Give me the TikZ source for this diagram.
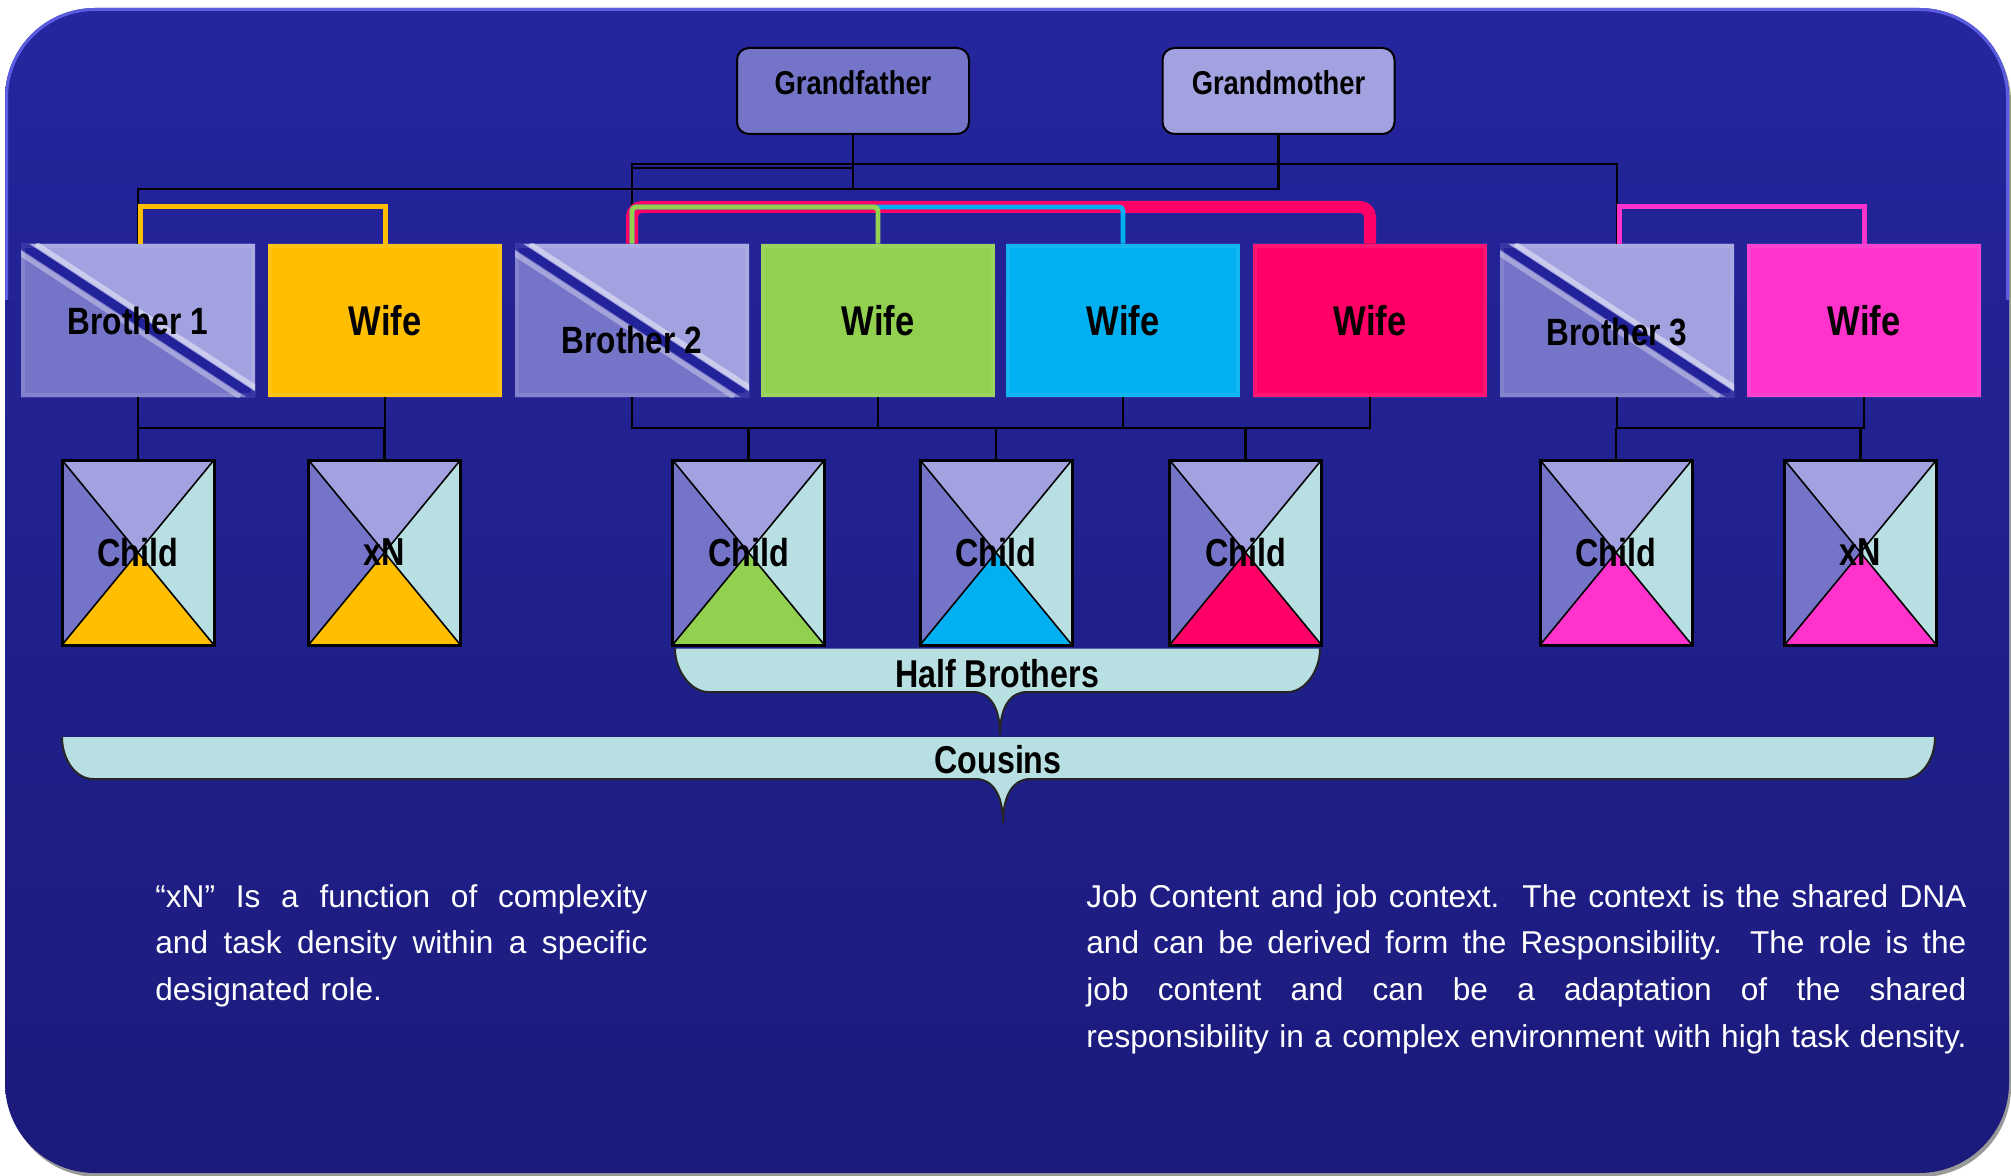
\documentclass[tikz,border=0pt]{standalone}
\usepackage{fontspec}
\setmainfont{Liberation Sans}
\newfontfamily\lblfont{Liberation Sans}[FakeStretch=0.83]
\usetikzlibrary{calc}
\definecolor{bgtop}{RGB}{37,37,158}
\definecolor{bgbot}{RGB}{27,27,124}
\definecolor{bglit}{RGB}{92,92,225}
\definecolor{bmid}{RGB}{116,116,200}
\definecolor{blight}{RGB}{162,162,224}
\definecolor{cyanl}{RGB}{184,224,226}
\definecolor{orangew}{RGB}{255,190,0}
\definecolor{greenw}{RGB}{146,208,80}
\definecolor{bluew}{RGB}{0,176,240}
\definecolor{redw}{RGB}{255,0,102}
\definecolor{pinkw}{RGB}{255,51,204}
\definecolor{band}{RGB}{34,34,154}
\newcommand\js{\hskip 0.278em plus 1fil\relax}
\newcommand\jline[2]{\leavevmode\hbox to #1{#2}}
\begin{document}
\begin{tikzpicture}[x=0.5pt,y=-0.5pt,
  conn/.style={draw=black, line width=1.2pt},
  famline/.style={line width=2.5pt},
  gbox/.style={draw=black, line width=1pt, rounded corners=6pt, fill=#1,
    minimum width=116pt, minimum height=43pt, inner sep=0pt,
    font={\lblfont\bfseries\fontsize{16.5pt}{19pt}\selectfont},
    text height=12pt, text depth=8pt},
  box/.style={minimum width=117pt, minimum height=76.5pt, inner sep=0pt},
  wifebox/.style={box, fill=#1,
    font={\lblfont\bfseries\fontsize{20.8pt}{24pt}\selectfont},
    path picture={
      \draw[white, opacity=0.08, line width=4pt]
        (path picture bounding box.south west) rectangle (path picture bounding box.north east);
    }},
  brotherbox/.style={box, fill=bmid,
    font={\lblfont\bfseries\fontsize{19pt}{22pt}\selectfont},
    path picture={
      \fill[blight] (path picture bounding box.north west) -- (path picture bounding box.north east)
        -- (path picture bounding box.south east) -- cycle;
      \draw[white, opacity=0.45, line width=2.5pt]
        ([xshift=7.5pt]path picture bounding box.north west) -- ([xshift=7.5pt]path picture bounding box.south east);
      \draw[white, opacity=0.35, line width=2.5pt]
        ([xshift=-7.5pt]path picture bounding box.north west) -- ([xshift=-7.5pt]path picture bounding box.south east);
      \draw[band, line width=4.5pt]
        (path picture bounding box.north west) -- (path picture bounding box.south east);
      \draw[white, opacity=0.1, line width=4pt]
        (path picture bounding box.south west) rectangle (path picture bounding box.north east);
    }},
  childbox/.style={minimum width=76pt, minimum height=92.5pt, inner sep=0pt,
    draw=black, line width=1.5pt,
    font={\lblfont\bfseries\fontsize{19.5pt}{22pt}\selectfont},
    path picture={
      \fill[blight] (path picture bounding box.north west) -- (path picture bounding box.north east)
        -- (path picture bounding box.center) -- cycle;
      \fill[bmid] (path picture bounding box.north west) -- (path picture bounding box.south west)
        -- (path picture bounding box.center) -- cycle;
      \fill[cyanl] (path picture bounding box.north east) -- (path picture bounding box.south east)
        -- (path picture bounding box.center) -- cycle;
      \fill[#1] (path picture bounding box.south west) -- (path picture bounding box.south east)
        -- (path picture bounding box.center) -- cycle;
      \draw[black, line width=0.8pt]
        (path picture bounding box.north west) -- (path picture bounding box.south east)
        (path picture bounding box.north east) -- (path picture bounding box.south west);
    }},
  bractext/.style={font={\lblfont\bfseries\fontsize{19.4pt}{22pt}\selectfont}, inner sep=0pt, anchor=base},
  para/.style={text=white, font={\fontsize{15.8pt}{23.35pt}\selectfont}, inner sep=0pt,
    anchor=base west, align=left}
]
\useasboundingbox (0,0) rectangle (2011,1176);
\fill[white] (0,0) rectangle (2011,1176);
% background panel
\fill[black!40, rounded corners=45pt] (8,12) rectangle (2011,1177);
\shade[top color=bgtop, bottom color=bgbot, rounded corners=45pt] (5,8) rectangle (2009,1173);
\begin{scope}
  \clip[rounded corners=45pt] (5,8) rectangle (2009,1173);
  \draw[bglit, line width=3pt, rounded corners=45pt] (5,300) -- (5,8) -- (2009,8) -- (2009,300);
\end{scope}

% bus levels
\coordinate (busB) at (0,164);
\coordinate (busB2) at (0,168);
\coordinate (busA) at (0,189);
\coordinate (famY) at (0,207);
\coordinate (busC) at (0,428);

% grandparents
\node[gbox=bmid] (gf) at (853,91) {Grandfather};
\node[gbox=blight] (gm) at (1278.5,91) {Grandmother};

% second generation
\node[brotherbox] (b1) at (138,320.5) {Brother 1};
\node[wifebox=orangew] (w1) at (385,320.5) {Wife};
\node[brotherbox, text height=33pt, text depth=0pt] (b2) at (632,320.5) {Brother 2};
\node[wifebox=greenw] (w2) at (878,320.5) {Wife};
\node[wifebox=bluew] (w3) at (1123,320.5) {Wife};
\node[wifebox=redw] (w4) at (1370,320.5) {Wife};
\node[brotherbox, text height=25pt, text depth=0pt] (b3) at (1617,320.5) {Brother 3};
\node[wifebox=pinkw] (w5) at (1864,320.5) {Wife};

% children
\node[childbox=orangew] (c1) at (138,552.5) {Child};
\node[childbox=orangew] (x1) at (384.5,552.5) {xN};
\node[childbox=greenw] (c2) at (748.5,552.5) {Child};
\node[childbox=bluew] (c3) at (996,552.5) {Child};
\node[childbox=redw] (c4) at (1245.5,552.5) {Child};
\node[childbox=pinkw] (c5) at (1616,552.5) {Child};
\node[childbox=pinkw] (x2) at (1860.5,552.5) {xN};

% grandparent connectors
\draw[conn] (gf.south) -- (gf.south |- busA) -| (b1.north);
\draw[conn] (gm.south) -- (gm.south |- busA) -- (gf.south |- busA);
\draw[conn] (b2.north) -- (b2.north |- busB) -- (b3.north |- busB) -- (b3.north);
\draw[conn] (gf.south |- busB2) -- (b2.north |- busB2);

% marriage connectors
\coordinate (b1o) at ([xshift=1pt]b1.north);
\coordinate (b3o) at ([xshift=1pt]b3.north);
\draw[famline, orangew] (b1o) -- (b1o |- famY) -- (w1.north |- famY) -- (w1.north);
\draw[famline, pinkw] (b3o) -- (b3o |- famY) -- (w5.north |- famY) -- (w5.north);
\draw[redw, line width=6pt, rounded corners=5pt] (b2.north) -- (b2.north |- famY) -- (w4.north |- famY) -- (w4.north);
\draw[bluew, line width=2.4pt, rounded corners=2pt] (b2.north) -- (b2.north |- famY) -- (w3.north |- famY) -- (w3.north);
\draw[greenw, line width=2.4pt, rounded corners=2pt] (b2.north) -- (b2.north |- famY) -- (w2.north |- famY) -- (w2.north);

% parent to child connectors
\draw[conn] (b1.south) -- (b1.south |- busC) -- (w1.south |- busC) -- (w1.south);
\draw[conn] (c1.north) -- (c1.north |- busC);
\draw[conn] (x1.north) -- (x1.north |- busC);
\draw[conn] (b2.south) -- (b2.south |- busC) -- (w4.south |- busC) -- (w4.south);
\draw[conn] (w2.south) -- (w2.south |- busC);
\draw[conn] (w3.south) -- (w3.south |- busC);
\draw[conn] (c2.north) -- (c2.north |- busC);
\draw[conn] (c3.north) -- (c3.north |- busC);
\draw[conn] (c4.north) -- (c4.north |- busC);
\draw[conn] (b3.south) -- (b3.south |- busC) -- (w5.south |- busC) -- (w5.south);
\draw[conn] (c5.north) -- (c5.north |- busC);
\draw[conn] (x2.north) -- (x2.north |- busC);

% Half Brothers bracket
\fill[cyanl] (675,648.5) .. controls (675,672) and (692,692) .. (708,692) -- (973,692)
  .. controls (989,692) and (1000,706) .. (1000,735) .. controls (1000,706) and (1011,692) .. (1027,692)
  -- (1288,692) .. controls (1304,692) and (1320,672) .. (1320,648.5) -- cycle;
\draw[black!85, line width=1pt] (675,648.5) .. controls (675,672) and (692,692) .. (708,692) -- (973,692)
  .. controls (989,692) and (1000,706) .. (1000,735) .. controls (1000,706) and (1011,692) .. (1027,692)
  -- (1288,692) .. controls (1304,692) and (1320,672) .. (1320,648.5);
\node[bractext] (hbt) at (997,687) {Half Brothers};

% Cousins bracket
\fill[cyanl] (62,737) .. controls (62,760) and (76,779) .. (93,779) -- (976,779)
  .. controls (992,779) and (1003,794) .. (1003,823) .. controls (1003,794) and (1014,779) .. (1030,779)
  -- (1904,779) .. controls (1921,779) and (1935,760) .. (1935,737) -- cycle;
\draw[black!85, line width=1pt] (62,737) .. controls (62,760) and (76,779) .. (93,779) -- (976,779)
  .. controls (992,779) and (1003,794) .. (1003,823) .. controls (1003,794) and (1014,779) .. (1030,779)
  -- (1904,779) .. controls (1921,779) and (1935,760) .. (1935,737);
\node[bractext] (cot) at (998,773) {Cousins};

% notes
\node[para, text width=246pt] (noteL) at (155,907)
  {\jline{246pt}{“xN”\js Is\js a\js function\js of\js complexity}\\
   \jline{246pt}{and\js task\js density\js within\js a\js specific}\\
   designated role.};
\node[para, text width=440pt] (noteR) at (1086,907)
  {\jline{440pt}{Job\js Content\js and\js job\js context.\js\js The\js context\js is\js the\js shared\js DNA}\\
   \jline{440pt}{and\js can\js be\js derived\js form\js the\js Responsibility.\js\js The\js role\js is\js the}\\
   \jline{440pt}{job\js content\js and\js can\js be\js a\js adaptation\js of\js the\js shared}\\
   \jline{440pt}{responsibility\js in\js a\js complex\js environment\js with\js high\js task\js density.}};
\end{tikzpicture}
\end{document}
